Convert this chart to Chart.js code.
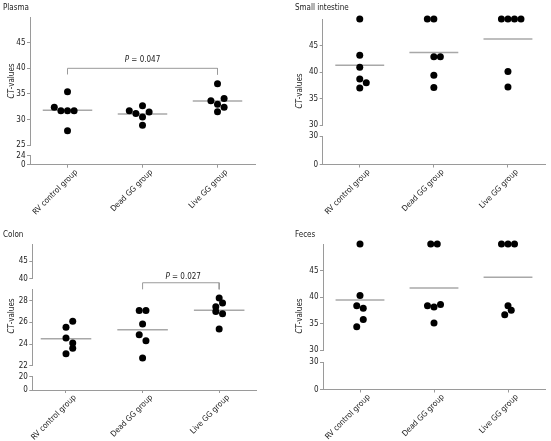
<!DOCTYPE html>
<html>
<head>
<meta charset="utf-8">
<script src="https://cdn.jsdelivr.net/npm/chart.js@4.4.1/dist/chart.umd.min.js"></script>
<style>
  html, body { margin: 0; padding: 0; background: #fff; }
  #wrap { position: relative; width: 551px; height: 441px; }
  canvas { position: absolute; }
</style>
</head>
<body>
<div id="wrap">
  <canvas id="plasma" width="275" height="220" style="left:0px;top:0px"></canvas>
  <canvas id="small" width="276" height="220" style="left:275px;top:0px"></canvas>
  <canvas id="colon" width="275" height="221" style="left:0px;top:220px"></canvas>
  <canvas id="feces" width="276" height="221" style="left:275px;top:220px"></canvas>
</div>
<script>
const groups = ['RV control group', 'Dead GG group', 'Live GG group'];

// CT values per group (slot = column in the dot swarm)
const plasmaRV = [35.45, 32.4, 31.75, 31.75, 31.75, 27.85];
const plasmaRVSlot = [0, -2, -1, 0, 1, 0];
const plasmaDead = [31.75, 31.2, 32.7, 30.5, 28.9, 31.5];
const plasmaDeadSlot = [-2, -1, 0, 0, 0, 1];
const plasmaLive = [37.0, 33.7, 33.0, 34.1, 32.4, 31.55];
const plasmaLiveSlot = [0, -1, 0, 1, 1, 0];

const smallRV = [50, 43.2, 40.9, 38.7, 38.0, 37.0];
const smallRVSlot = [0, 0, 0, 0, 1, 0];
const smallDead = [50, 50, 42.9, 42.9, 39.4, 37.1];
const smallDeadSlot = [-1, 0, 0, 1, 0, 0];
const smallLive = [50, 50, 50, 50, 40.1, 37.2];
const smallLiveSlot = [-1, 0, 1, 2, 0, 0];

const colonRV = [26.1, 25.55, 24.55, 24.1, 23.6, 23.1];
const colonRVSlot = [1, 0, 0, 1, 1, 0];
const colonDead = [27.1, 27.1, 25.85, 24.85, 24.3, 22.7];
const colonDeadSlot = [-0.5, 0.5, 0, -0.5, 0.5, 0];
const colonLive = [28.25, 27.8, 27.45, 27.0, 26.8, 25.4];
const colonLiveSlot = [0, 0.5, -0.5, -0.5, 0.5, 0];

const fecesRV = [50, 40.3, 38.35, 37.9, 35.75, 34.4];
const fecesRVSlot = [0, 0, -0.5, 0.5, 0.5, -0.5];
const fecesDead = [50, 50, 38.35, 38.1, 38.6, 35.1];
const fecesDeadSlot = [-0.5, 0.5, -1, 0, 1, 0];
const fecesLive = [50, 50, 50, 38.35, 37.5, 36.65];
const fecesLiveSlot = [-1, 0, 1, 0, 0.5, -0.5];

// broken y axis pieces, top to bottom
const plasmaTicksTop = [25, 30, 35, 40, 45];
const plasmaTicksBot = [0, 24];
const smallTicksTop = [30, 35, 40, 45];
const smallTicksBot = [0, 30];
const colonTicksTop = [40, 45];
const colonTicksMid = [22, 24, 26, 28];
const colonTicksBot = [0, 20];
const fecesTicksTop = [30, 35, 40, 45];
const fecesTicksBot = [0, 30];

const AXIS = '#9a9a9a';
const MEAN = '#a8a8a8';
const TEXT = '#222';
const FONT = '"DejaVu Sans Condensed", "Liberation Sans", sans-serif';
const STEP = 0.088;   // swarm column width in category units
const HALF = 0.33;    // half length of the mean bar

Chart.defaults.font.family = FONT;
Chart.defaults.font.size = 8;
Chart.defaults.color = TEXT;

// draws mixed italic / upright text centred on (cx, cy)
function drawParts(ctx, parts, cx, cy) {
  const f = it => (it ? 'italic ' : '') + '8px ' + FONT;
  let total = 0;
  parts.forEach(p => { ctx.font = f(p[1]); total += ctx.measureText(p[0]).width; });
  let x = cx - total / 2;
  ctx.textAlign = 'left';
  ctx.textBaseline = 'middle';
  parts.forEach(p => {
    ctx.font = f(p[1]);
    ctx.fillText(p[0], x, cy);
    x += ctx.measureText(p[0]).width;
  });
}

const notes = {
  id: 'notes',
  afterDraw(chart, args, o) {
    const ctx = chart.ctx;
    ctx.save();
    ctx.fillStyle = TEXT;
    ctx.font = '8px ' + FONT;
    ctx.textAlign = 'left';
    ctx.textBaseline = 'middle';
    ctx.fillText(o.title, o.titleX, o.titleY);
    if (o.p) {
      const px = chart.scales.x.getPixelForValue(o.p.x);
      const py = chart.scales[o.p.axis].getPixelForValue(o.p.y);
      drawParts(ctx, [['P', true], [' = ' + o.p.text, false]], px, py);
    }
    ctx.translate(o.labelX, o.labelY);
    ctx.rotate(-Math.PI / 2);
    drawParts(ctx, [['CT', true], ['-values', false]], 0, 0);
    ctx.restore();
  }
};

function buildChart(id, p) {
  const scales = {
    x: {
      type: 'linear', position: 'bottom', min: p.xMin, max: p.xMax,
      afterBuildTicks: s => { s.ticks = groups.map((g, i) => ({ value: i })); },
      afterFit: s => { s.height = p.xHeight; },
      ticks: { callback: v => groups[v], minRotation: 45, maxRotation: 45, autoSkip: false,
        padding: 0, labelOffset: 9 },
      grid: { drawOnChartArea: false, tickLength: 3, color: AXIS },
      border: { color: AXIS }
    }
  };
  const order = [];
  p.segs.forEach((sg, k) => {
    if (k > 0) order.push({ id: 'yg' + k, gap: true, h: p.gaps[k - 1] });
    order.push(sg);
  });
  order.forEach((sg, k) => {
    scales[sg.id] = {
      type: 'linear', axis: 'y', position: 'left', stack: 'left',
      stackWeight: sg.h, weight: 50 - k,
      min: sg.gap ? 0 : sg.min, max: sg.gap ? 1 : sg.max,
      afterFit: s => { s.width = p.axisX; },
      afterBuildTicks: s => { s.ticks = (sg.gap ? [0] : sg.ticks).map(v => ({ value: v })); },
      ticks: { display: !sg.gap, autoSkip: false, padding: 1.5, callback: v => String(v) },
      grid: { display: !sg.gap, drawOnChartArea: false, tickLength: 3, color: AXIS },
      border: { display: !sg.gap, color: AXIS }
    };
  });

  const segOf = v => p.segs.find(sg => v >= sg.min && v <= sg.max) || p.segs[0];
  const datasets = [];
  p.series.forEach((g, i) => {
    p.segs.forEach(sg => {
      const pts = [];
      g.vals.forEach((v, j) => {
        if (segOf(v) === sg) pts.push({ x: i + g.slots[j] * STEP, y: v });
      });
      if (pts.length) {
        datasets.push({ data: pts, yAxisID: sg.id, pointRadius: 3.5, pointBackgroundColor: '#000',
          pointBorderWidth: 0, clip: false });
      }
    });
    const m = g.vals.reduce((a, b) => a + b, 0) / g.vals.length;
    datasets.push({ data: [{ x: i - HALF, y: m }, { x: i + HALF, y: m }], yAxisID: segOf(m).id,
      showLine: true, borderColor: MEAN, borderWidth: 1.5, pointRadius: 0, clip: false });
  });
  if (p.bracket) {
    const b = p.bracket;
    datasets.push({
      data: [{ x: b.from, y: b.low }, { x: b.from, y: b.y }, { x: b.to, y: b.y }, { x: b.to, y: b.low }],
      yAxisID: b.axis, showLine: true, borderColor: AXIS, borderWidth: 1, pointRadius: 0, clip: false
    });
  }

  return new Chart(document.getElementById(id), {
    type: 'scatter',
    data: { datasets },
    options: {
      responsive: false,
      animation: false,
      events: [],
      layout: { padding: { top: p.top, right: p.right, left: 0, bottom: 0 } },
      scales,
      plugins: { legend: { display: false }, tooltip: { enabled: false }, notes: p.notes }
    },
    plugins: [notes]
  });
}

buildChart('plasma', {
  top: 17, right: 20, axisX: 30, xHeight: 55.3, xMin: -0.5, xMax: 2.5,
  segs: [
    { id: 'y0', min: 25, max: 50, ticks: plasmaTicksTop, h: 128.3 },
    { id: 'y1', min: 0, max: 24, ticks: plasmaTicksBot, h: 9 }
  ],
  gaps: [10.4],
  series: [
    { vals: plasmaRV, slots: plasmaRVSlot },
    { vals: plasmaDead, slots: plasmaDeadSlot },
    { vals: plasmaLive, slots: plasmaLiveSlot }
  ],
  bracket: { from: 0, to: 2, y: 40, low: 38.8, axis: 'y0' },
  notes: { title: 'Plasma', titleX: 3, titleY: 8, labelX: 12, labelY: 81,
    p: { text: '0.047', x: 1, y: 41.6, axis: 'y0' } }
});

buildChart('small', {
  top: 19, right: 6, axisX: 47.7, xHeight: 55.5, xMin: -0.5, xMax: 2.5,
  segs: [
    { id: 'y0', min: 30, max: 50, ticks: smallTicksTop, h: 106.3 },
    { id: 'y1', min: 0, max: 30, ticks: smallTicksBot, h: 28.2 }
  ],
  gaps: [11],
  series: [
    { vals: smallRV, slots: smallRVSlot },
    { vals: smallDead, slots: smallDeadSlot },
    { vals: smallLive, slots: smallLiveSlot }
  ],
  notes: { title: 'Small intestine', titleX: 20, titleY: 8, labelX: 25, labelY: 91 }
});

buildChart('colon', {
  top: 24, right: 18.3, axisX: 32.3, xHeight: 51, xMin: -0.44, xMax: 2.49,
  segs: [
    { id: 'y0', min: 40, max: 50, ticks: colonTicksTop, h: 34.7 },
    { id: 'y1', min: 22, max: 29, ticks: colonTicksMid, h: 75.8 },
    { id: 'y2', min: 0, max: 20, ticks: colonTicksBot, h: 13.3 }
  ],
  gaps: [11.2, 11],
  series: [
    { vals: colonRV, slots: colonRVSlot },
    { vals: colonDead, slots: colonDeadSlot },
    { vals: colonLive, slots: colonLiveSlot }
  ],
  bracket: { from: 1, to: 2, y: 29.66, low: 29.05, axis: 'y1' },
  notes: { title: 'Colon', titleX: 3, titleY: 15, labelX: 11.5, labelY: 96,
    p: { text: '0.027', x: 1.53, y: 30.2, axis: 'y1' } }
});

buildChart('feces', {
  top: 24, right: 6, axisX: 48, xHeight: 51.5, xMin: -0.5, xMax: 2.5,
  segs: [
    { id: 'y0', min: 30, max: 50, ticks: fecesTicksTop, h: 106 },
    { id: 'y1', min: 0, max: 30, ticks: fecesTicksBot, h: 27.2 }
  ],
  gaps: [12.3],
  series: [
    { vals: fecesRV, slots: fecesRVSlot },
    { vals: fecesDead, slots: fecesDeadSlot },
    { vals: fecesLive, slots: fecesLiveSlot }
  ],
  notes: { title: 'Feces', titleX: 20, titleY: 15, labelX: 25, labelY: 96 }
});
</script>
</body>
</html>
